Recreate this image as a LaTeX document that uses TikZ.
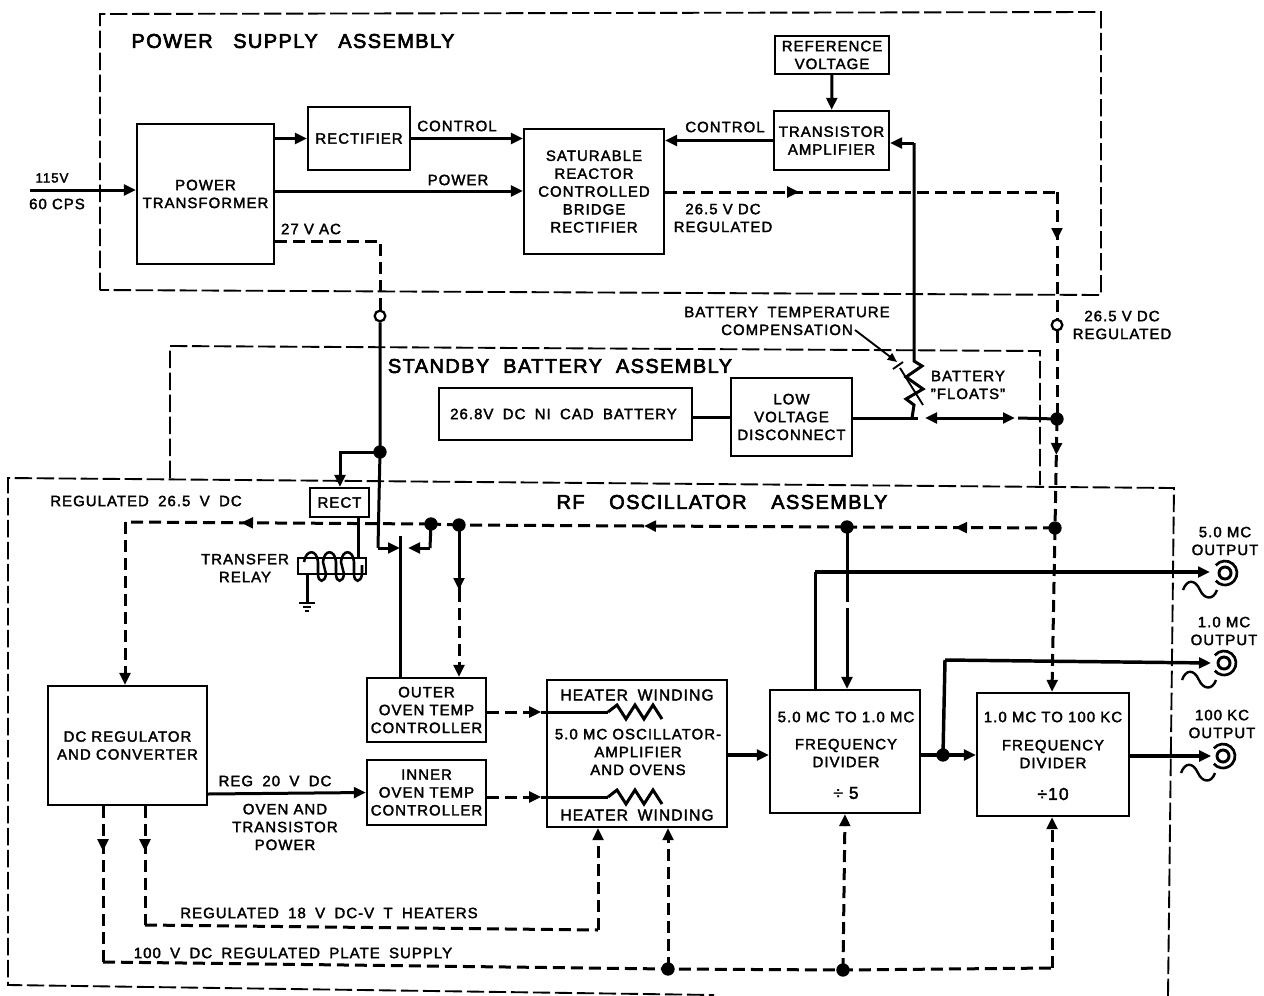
\documentclass[tikz,border=0pt]{standalone}
\usepackage{fontspec}
\setmainfont[LetterSpace=7,FakeBold=2.2]{Liberation Sans}
\newfontfamily\wspc[LetterSpace=7,FakeBold=2.2,WordSpace=1.8]{Liberation Sans}
\newfontfamily\tspc[LetterSpace=7,FakeBold=3.2,WordSpace=2]{Liberation Sans}
\usetikzlibrary{arrows.meta,decorations.markings}
\newcommand{\lblfont}{\fontsize{11.2}{13.4}\selectfont}
\newcommand{\widefont}{\wspc\fontsize{11.2}{13.4}\selectfont}
\newcommand{\ttlfont}{\tspc\fontsize{15}{17}\selectfont}
\tikzset{
  x=0.75pt,y=-0.75pt,
  >={Triangle[length=9pt,width=8pt]},
  bx/.style={draw,line width=1.7pt,align=center,font=\lblfont,inner sep=0pt,fill=white},
  lbl/.style={font=\lblfont,align=center,inner sep=0pt},
  wlbl/.style={font=\widefont,align=center,inner sep=0pt},
  ttl/.style={font=\ttlfont,inner sep=0pt},
  wire/.style={line width=2.25pt},
  dwire/.style={line width=2.25pt,dash pattern=on 9pt off 4.5pt},
  frame/.style={line width=1.4pt,dash pattern=on 13pt off 3.5pt},
  dot/.style={circle,fill,inner sep=0pt,minimum size=10pt},
  ring/.style={circle,draw,line width=1.7pt,fill=white,inner sep=0pt,minimum size=8pt},
  jack/.style={circle,draw,line width=2.2pt,inner sep=0pt,minimum size=9pt},
  tip at/.style={postaction={decorate,decoration={markings,mark=at position #1*0.75pt with {\arrow{>}}}}},
  sz/.style 2 args={minimum width=#1*0.75pt,minimum height=#2*0.75pt},
}
\begin{document}
\begin{tikzpicture}
\useasboundingbox (0,0) rectangle (1264,996);
% frames
\draw[frame] (100,290) -- (100,14) -- (1101,12) -- (1101,295) -- cycle;
\draw[frame] (170,478) -- (170,346) -- (1040,351) -- (1040,485);
\draw[frame] (1168,996) -- (1174,488) -- (8,478) -- (8,985) -- (714,995);
% boxes
\node[bx,sz={137}{140}] (pt) at (205.5,194) {POWER\\TRANSFORMER};
\node[bx,sz={102}{63}] (rf) at (359,138.5) {RECTIFIER};
\node[bx,sz={140}{125}] (sr) at (594,191.5) {SATURABLE\\REACTOR\\CONTROLLED\\BRIDGE\\RECTIFIER};
\node[bx,sz={115}{59}] (ta) at (831.5,140.5) {TRANSISTOR\\AMPLIFIER};
\node[bx,sz={114}{38}] (rv) at (832,55) {REFERENCE\\VOLTAGE};
\node[bx,sz={253}{52},font=\widefont] (bt) at (565.5,414) {26.8V DC NI CAD BATTERY\hspace{3pt}};
\node[bx,sz={121}{78}] (lv) at (791.5,417) {LOW\\VOLTAGE\\DISCONNECT};
\node[bx,sz={59}{29}] (rc) at (339.5,502.5) {RECT};
\node[bx,sz={159}{119}] (dc) at (127.5,745.5) {DC REGULATOR\\AND CONVERTER};
\node[bx,sz={119}{64}] (ou) at (426.5,710) {OUTER\\OVEN TEMP\\CONTROLLER};
\node[bx,sz={119}{65}] (in) at (426.5,792.5) {INNER\\OVEN TEMP\\CONTROLLER};
\node[bx,sz={180}{147}] (os) at (637,753.5) {};
\node[bx,sz={150}{123}] (d5) at (845,751.5) {};
\node[bx,sz={152}{123}] (d1) at (1053,754.5) {};
% coordinates
\coordinate (in115) at (30,190);
\coordinate (jf) at (1057,192);
\coordinate (ac) at (380,241);
\coordinate (vr) at (914,361);
\coordinate (vt) at (914,143);
\coordinate (rb) at (912,418);
\coordinate (rb2) at (918,418);
\coordinate (fl) at (925,418);
\coordinate (fr) at (1015,418);
\coordinate (rl) at (125,522);
\coordinate (ma) at (644,526);
\coordinate (sw) at (378,548);
\coordinate (ct) at (400,536);
\coordinate (cs) at (408,548);
\coordinate (kn) at (430,548);
\coordinate (rk) at (340,452);
\coordinate (g1) at (307,574);
\coordinate (g2) at (307,603);
\coordinate (cl) at (358,558);
\coordinate (h1) at (608,712);
\coordinate (h2) at (608,797);
\coordinate (o5k) at (815,572);
\coordinate (o1k) at (945,660);
\coordinate (p1) at (103,962);
\coordinate (p2) at (1052,968);
\coordinate (v1) at (145,925);
\coordinate (v2) at (598,930);
% junctions
\node[ring] (c27) at (380,316) {};
\node[ring] (c26) at (1057,325) {};
\node[dot] (ja) at (380,452) {};
\node[dot] (jb) at (1057,419) {};
\node[dot] (jc) at (1055,528) {};
\node[dot] (jd) at (847,527) {};
\node[dot] (je) at (459,525) {};
\node[dot] (jg) at (431,524) {};
\node[dot] (jh) at (943,755) {};
\node[dot] (jp) at (668,969) {};
\node[dot] (jq) at (843,970) {};
% outputs
\node[jack] (o5) at (1225,573) {};
\node[jack] (o1) at (1224,663) {};
\node[jack] (o0) at (1223,756) {};
\foreach \n in {o5,o1,o0}{
  \begin{scope}[shift={(\n.center)}]
  \draw[line width=2pt] (-9.2,-7.7) arc[start angle=140,end angle=-140,radius=9pt];
  \draw[line width=1.8pt] (-42,17) .. controls (-38,6) and (-30,6) .. (-25,17) .. controls (-21,26) and (-12,28) .. (-8,17);
  \end{scope}
}
% power supply wires
\draw[wire,->] (in115) -- (pt.west |- in115);
\draw[wire,->] (pt.east |- rf) -- (rf);
\draw[wire,->] (rf.east) -- (sr.west |- rf.east);
\draw[wire,->] (pt.east |- 0,191) -- (sr.west |- 0,191);
\draw[wire,->] (ta.west) -- (sr.east |- ta.west);
\draw[wire,->] (rv) -- (ta);
\draw[dwire,tip at=134] (sr.east |- jf) -- (jf);
\draw[dwire,tip at=48] (jf) -- (c26);
\draw[dwire] (pt.east |- ac) -- (ac) -- (c27);
\draw[dwire] (c26) -- (jb.center);
\draw[dwire,tip at=36] (jb.center) -- (jc.center);
\draw[dwire,->] (jc.center) -- (d1.north -| 1052,0);
% battery
\draw[wire] (bt.east |- lv) -- (lv);
\draw[wire] (lv.east |- rb) -- (rb2);
\draw[wire] (rb) -- ++(2,-13) -- ++(-8,-6) -- ++(17,-10) -- ++(-17,-12) -- ++(16,-11) -- (vr) -- (vt);
\draw[wire,->] (vt) -- (ta.east |- vt);
\draw[wire,<->] (fl) -- (fr);
\draw[wire] (fr) ++(3,0) -- (jb.center);
\draw[line width=1.4pt,-{Triangle[length=7pt,width=6pt]}] (855,330) -- (897,362);
\draw[line width=1.4pt] (893,369) -- (903,362);
\draw[line width=1.4pt] (900,368) -- (923,405);
% 27 V branch
\draw[wire] (c27) -- (ja.center) -- (sw);
\draw[wire,->] (sw) -- (ct |- sw);
\draw[wire,->] (ja.center) -- (rk) -- (rk |- rc.north);
\draw[wire] (ct) -- (ou.north -| ct);
\draw[wire] (jg.center) -- (kn);
\draw[wire,->] (kn) -- (cs);
\draw[wire] (rc.south -| cl) -- (cl);
% relay coil
\draw[line width=1.2pt] (298,558) rectangle (366,574);
\draw[line width=1.9pt] (304,562) .. controls (306,549) and (317,549) .. (318,562) -- (318,574) .. controls (318,583) and (325,583) .. (326,574) -- (323,562) .. controls (324,549) and (335,549) .. (336,562) -- (336,574) .. controls (336,583) and (343,583) .. (344,574) -- (341,562) .. controls (342,549) and (353,549) .. (354,562) -- (354,574) .. controls (354,583) and (361,583) .. (362,574) -- (362,565);
\draw[wire] (g1) -- (g2);
\draw[line width=2pt] (g2) ++(-8,0) -- ++(16,0) ++(-12,4) -- ++(8,0) ++(-6,4) -- ++(4,0);
% regulated line
\draw[dwire,tip at=100] (jc.center) -- (jd.center);
\draw[dwire,->] (jd.center) -- (ma);
\draw[dwire] (ma) -- (je.center);
\draw[dwire] (je.center) -- (jg.center);
\draw[dwire,tip at=190] (jg.center) -- (rl);
\draw[dwire,->] (rl) -- (dc.north -| rl);
\draw[wire,tip at=65] (je.center) -- (459,590);
\draw[dwire,->] (459,590) -- (ou.north -| 459,0);
\draw[wire,tip at=65] (jd.center) -- (847,590);
\draw[dwire] (847,590) -- (847,620);
\draw[wire,->] (847,620) -- (d5.north -| 847,0);
% heaters
\draw[dwire,tip at=54] (ou.east |- h1) -- (os.west |- h1);
\draw[dwire,tip at=54] (in.east |- h2) -- (os.west |- h2);
\draw[wire] (os.west |- h1) -- (h1);
\draw[wire] (os.west |- h2) -- (h2);
\draw[wire] (h1) -- ++(9,-7) -- ++(9,14) -- ++(9,-14) -- ++(9,14) -- ++(9,-14) -- ++(9,14);
\draw[wire] (h2) -- ++(9,-7) -- ++(9,14) -- ++(9,-14) -- ++(9,14) -- ++(9,-14) -- ++(9,14);
% signal chain
\draw[wire,->] (dc.east |- in.west) ++(0,1.5) -- (in.west);
\draw[line width=2.6pt,->] (os.east |- 0,755) -- (d5.west |- 0,755);
\draw[line width=2.6pt,->] (d5.east |- jh) -- (d1.west |- jh);
\draw[wire] (815,690) -- (o5k);
\draw[line width=2.6pt,->] (o5k) -- ++(395,0);
\draw[line width=2.6pt] (jh.center) -- (o1k);
\draw[line width=2.6pt,->] (o1k) -- ++(266,3);
\draw[line width=2.6pt,->] (d1.east |- o0) -- ++(81,0);
% supply returns
\draw[dwire,tip at=45] (dc.south -| p1) -- (p1);
\draw[dwire,tip at=45] (dc.south -| v1) -- (v1);
\draw[dwire] (v1) -- (v2);
\draw[dwire,->] (v2) -- (os.south -| v2);
\draw[dwire] (p1) -- (jp.center) -- (jq.center) -- (p2);
\draw[dwire,->] (p2) -- (d1.south -| p2);
\draw[dwire,->] (jp.center) -- (os.south -| jp);
\draw[dwire,->] (jq.center) -- (d5.south -| 845,0);
% box inner text
\node[lbl,font=\widefont\fontsize{11.7}{13.4}\selectfont] (t1) at (637,695) {HEATER WINDING};
\node[lbl] (t2) at (638,752) {5.0 MC OSCILLATOR-\\AMPLIFIER\\AND OVENS};
\node[lbl,font=\widefont\fontsize{11.7}{13.4}\selectfont] (t3) at (637,815) {HEATER WINDING};
\node[lbl] (t4) at (846,717) {5.0 MC TO 1.0 MC};
\node[lbl] (t5) at (846,753) {FREQUENCY\\DIVIDER};
\node[lbl,font=\fontsize{13}{15}\selectfont] (t6) at (846,793) {÷ 5};
\node[lbl] (t7) at (1053,717) {1.0 MC TO 100 KC};
\node[lbl] (t8) at (1053,754) {FREQUENCY\\DIVIDER};
\node[lbl,font=\fontsize{13}{15}\selectfont] (t9) at (1053,794) {÷10};
% labels
\node[ttl] (l1) at (293,41) {POWER\hspace{5pt} SUPPLY\hspace{5pt} ASSEMBLY};
\node[ttl] (l2) at (560,366) {STANDBY BATTERY ASSEMBLY};
\node[ttl] (l3) at (722,502) {RF\hspace{8pt} OSCILLATOR\hspace{8pt} ASSEMBLY};
\node[lbl,font=\fontsize{10}{13.4}\selectfont] (l4) at (52,178) {115V};
\node[lbl] (l5) at (57,204) {60 CPS};
\node[lbl] (l6) at (457,126) {CONTROL};
\node[lbl] (l7) at (458,180) {POWER};
\node[lbl] (l8) at (725,127) {CONTROL};
\node[lbl] (l9) at (723,218) {26.5 V DC\\REGULATED};
\node[lbl] (l10) at (311,229) {27 V AC};
\node[lbl] (l11) at (1122,325) {26.5 V DC\\REGULATED};
\node[wlbl] (l12) at (787,321) {BATTERY TEMPERATURE\\COMPENSATION};
\node[lbl] (l13) at (968,385) {BATTERY\\"FLOATS"};
\node[wlbl] (l14) at (146,501) {REGULATED 26.5 V DC};
\node[lbl] (l15) at (245,568) {TRANSFER\\RELAY};
\node[lbl] (l16) at (1225,541) {5.0 MC\\OUTPUT};
\node[lbl] (l17) at (1224,631) {1.0 MC\\OUTPUT};
\node[lbl] (l18) at (1222,724) {100 KC\\OUTPUT};
\node[wlbl] (l19) at (275,781) {REG 20 V DC};
\node[lbl] (l20) at (285,827) {OVEN AND\\TRANSISTOR\\POWER};
\node[wlbl] (l21) at (329,913) {REGULATED 18 V DC-V T HEATERS};
\node[wlbl] (l22) at (293,953) {100 V DC REGULATED PLATE SUPPLY};
\end{tikzpicture}
\end{document}
